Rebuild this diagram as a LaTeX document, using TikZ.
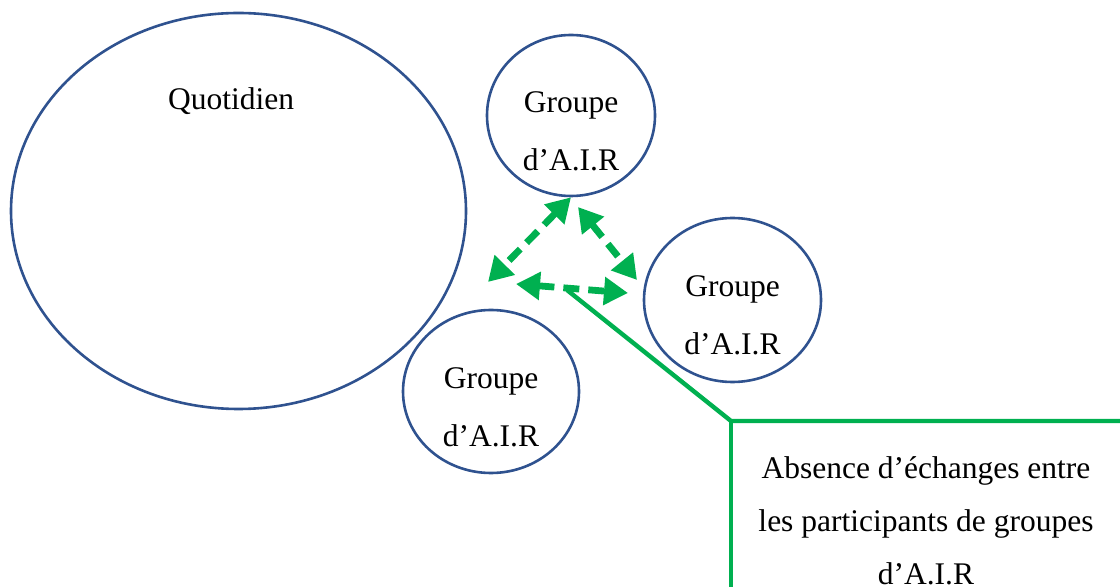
\documentclass[tikz,border=0pt]{standalone}
\usepackage{fontspec}
\setmainfont{Liberation Serif}
\usetikzlibrary{shapes.geometric,arrows.meta}
\definecolor{cercle}{HTML}{2F528F}
\definecolor{vert}{HTML}{00B050}
\begin{document}
\begin{tikzpicture}[x=0.5pt,y=-0.5pt,
            bulle/.style={ellipse, draw=cercle, line width=1.3pt, inner sep=0pt},
            texte/.style={align=center, font=\fontsize{15.75}{29}\selectfont},
            encadre/.style={align=center, font=\fontsize{15.75}{26.5}\selectfont},
            echange/.style={vert, line width=3.4pt, dash pattern=on 8pt off 4.5pt,
              {Triangle[length=12pt,width=13.5pt]}-{Triangle[length=12pt,width=13.5pt]}},
            renvoi/.style={vert, line width=2.2pt}
            ]
            \useasboundingbox (0,0) rectangle (1120,587);

            \node[bulle, minimum width=227.5pt, minimum height=198pt] (quot) at (238.5,211) {};
            \node[anchor=base, font=\fontsize{15.75}{29}\selectfont] (tquot) at (231,110) {Quotidien};

            \node[bulle, minimum width=84pt, minimum height=80.5pt] (gA) at (571,115.5) {};
            \node[bulle, minimum width=88.5pt, minimum height=82pt] (gB) at (732.5,300) {};
            \node[bulle, minimum width=88pt, minimum height=81.5pt] (gC) at (491,391.5) {};
            \node[texte] (tA) at ([yshift=-7.7pt]gA.center) {Groupe\\d’A.I.R};
            \node[texte] (tB) at ([yshift=-7.7pt]gB.center) {Groupe\\d’A.I.R};
            \node[texte] (tC) at ([yshift=-7.7pt]gC.center) {Groupe\\d’A.I.R};

            % echanges
            \coordinate (a2) at (488,282);
            \coordinate (b1) at (578,207);
            \coordinate (b2) at (637,280);
            \coordinate (c1) at (516,284);
            \coordinate (c2) at (628,293);
            \draw[echange] (gA.south) -- (a2);
            \draw[echange] (b1) -- (b2);
            \draw[echange] (c1) -- (c2);

            % renvoi vers le commentaire
            \coordinate (r0) at (567,290);
            \coordinate (coin) at (731,421);
            \coordinate (droite) at (1124,421);
            \coordinate (bas) at (731,592);
            \draw[renvoi] (r0) -- (coin) -- (droite);
            \draw[renvoi] (coin) -- (bas);
            \node[encadre] (note) at (926,520.5) {Absence d’échanges entre\\les participants de groupes\\d’A.I.R};

            \end{tikzpicture}
\end{document}
